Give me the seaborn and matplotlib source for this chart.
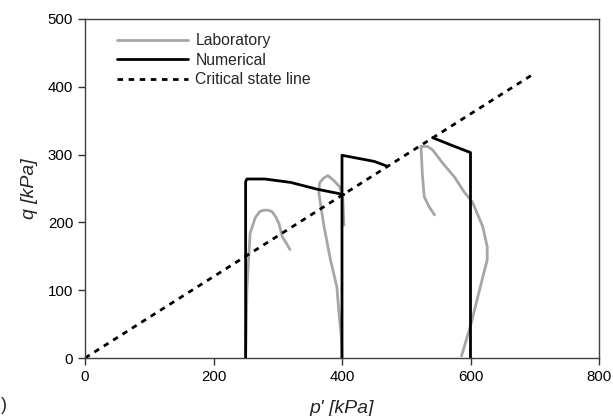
import matplotlib
matplotlib.use("Agg")
import matplotlib.pyplot as plt
import seaborn as sns
import pandas as pd
from matplotlib.lines import Line2D

# ---- data ----
lab1_p = [250, 251, 252, 254, 257, 265, 272, 278, 285, 291, 297, 302, 307, 313, 319]
lab1_q = [0, 50, 100, 135, 184, 207, 216, 218, 218, 216, 208, 198, 179, 170, 160]
lab2_p = [400, 399, 395, 392, 382, 372, 364, 365, 371, 378, 387, 396, 401, 402, 403]
lab2_q = [0, 30, 70, 105, 145, 194, 243, 258, 265, 269, 262, 253, 240, 220, 196]
lab3_p = [523, 525, 528, 535, 544]
lab3_q = [312, 272, 238, 224, 211]
lab4_p = [523, 533, 541, 549, 557, 575, 590, 603, 619, 626, 626, 614, 601, 586]
lab4_q = [312, 312, 307, 297, 287, 267, 245, 230, 194, 164, 145, 100, 51, 3]

num1_p = [250, 250, 252, 280, 320, 361, 403]
num1_q = [0, 260, 264, 264, 259, 249, 241]
num2_p = [400, 400, 450, 470]
num2_q = [0, 299, 290, 283]
num3_p = [600, 600, 570, 541]
num3_q = [0, 303, 314, 325]

csl_p = [0, 700]
csl_q = [0, 420]

x_ticks = [0, 200, 400, 600, 800]
y_ticks = [0, 100, 200, 300, 400, 500]

sns.set_theme(style="ticks")
plt.rcParams["font.family"] = ["Liberation Sans", "DejaVu Sans"]

fig = plt.figure(figsize=(6.13, 4.16), dpi=100)
ax = fig.add_axes([85/613, 1-358/416, (599-85)/613, (358-19)/416])

gray = "#a6a6a6"
for p, q in [(lab1_p, lab1_q), (lab2_p, lab2_q), (lab3_p, lab3_q), (lab4_p, lab4_q)]:
    sns.lineplot(x=p, y=q, sort=False, estimator=None, color=gray, lw=2.0, ax=ax)
for p, q in [(num1_p, num1_q), (num2_p, num2_q), (num3_p, num3_q)]:
    sns.lineplot(x=p, y=q, sort=False, estimator=None, color="black", lw=2.0, ax=ax)
sns.lineplot(x=csl_p, y=csl_q, sort=False, estimator=None, color="black", lw=2.0,
             ax=ax, linestyle=(0, (2, 2)))

ax.set_xlim(0, 800)
ax.set_ylim(0, 500)
ax.set_xticks(x_ticks)
ax.set_yticks(y_ticks)
ax.tick_params(labelsize=10.8, length=5, width=1, colors="#333333", labelcolor="black", direction="out")
for s in ax.spines.values():
    s.set_color("#404040")
    s.set_linewidth(1.0)
    s.set_visible(True)

ax.set_xlabel("p' [kPa]", fontsize=14, style="italic", labelpad=12)
ax.set_ylabel("q [kPa]", fontsize=14, style="italic", labelpad=7)

handles = [Line2D([], [], color=gray, lw=2.0),
           Line2D([], [], color="black", lw=2.0),
           Line2D([], [], color="black", lw=2.0, linestyle=(0, (2, 2)))]
ax.legend(handles, ["Laboratory", "Numerical", "Critical state line"],
          loc="upper left", bbox_to_anchor=((117-85)/514, (358-33)/339), frameon=False,
          fontsize=11.3, handlelength=4.5, handletextpad=0.5, labelspacing=0.3,
          borderaxespad=0, borderpad=0)

fig.text(0.002, 0.015, ")", fontsize=13)

fig.savefig("out.png", dpi=100)
